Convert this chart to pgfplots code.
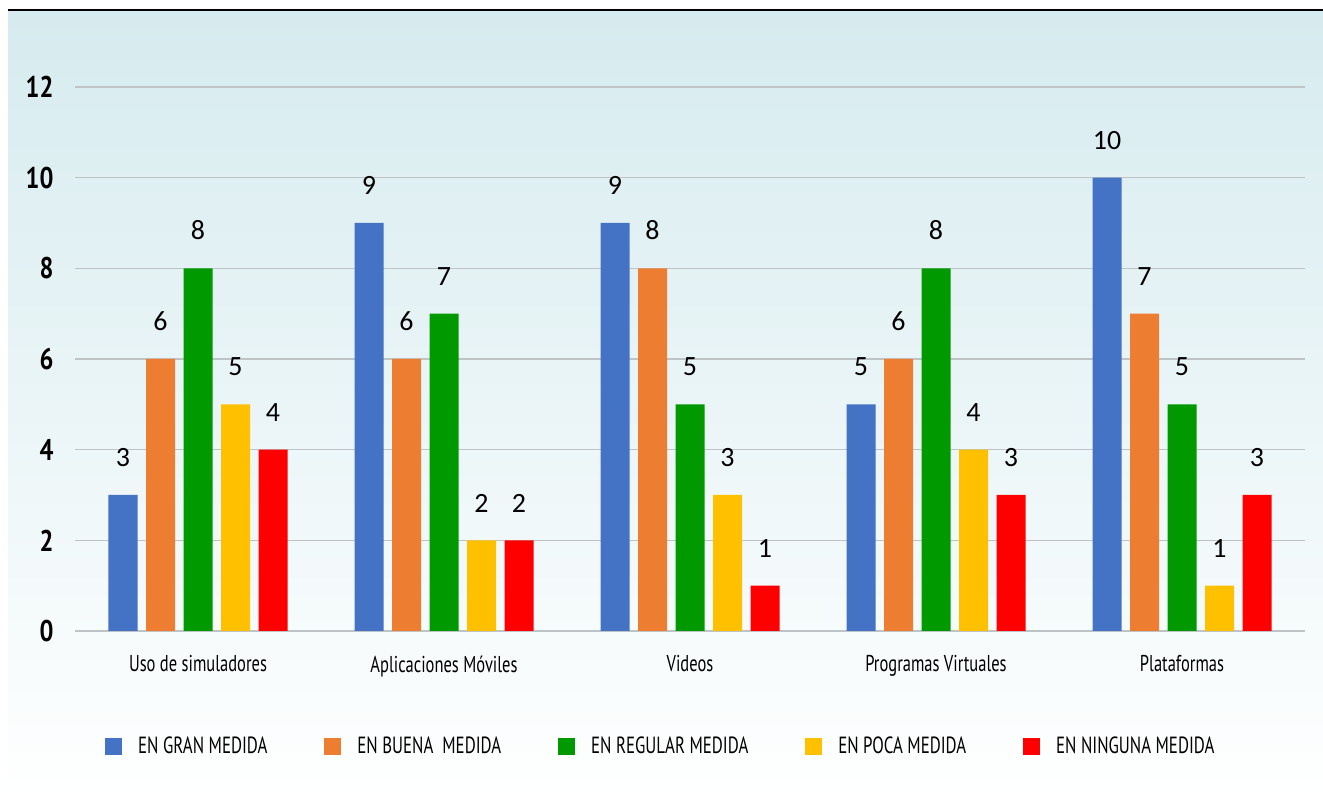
\documentclass[border=0pt]{standalone}
\usepackage{fontspec}
\setmainfont[FakeStretch=0.72]{PT Sans}
\newfontfamily\tickf[FakeStretch=0.82]{PT Sans}
\newfontfamily\lab{Carlito}
\usepackage{pgfplots}
\pgfplotsset{compat=1.18}
\definecolor{cA}{HTML}{4472C4}
\definecolor{cB}{HTML}{ED7D31}
\definecolor{cC}{HTML}{009A00}
\definecolor{cD}{HTML}{FFC000}
\definecolor{cE}{HTML}{FF0000}
\definecolor{bgtop}{RGB}{214,235,239}
\definecolor{gridc}{RGB}{190,196,198}

\pgfplotsset{sq/.style={fill=#1, draw=none,
  legend image code/.code={\fill[#1] (0bp,-8.5bp) rectangle (17bp,8.5bp);}}}

\begin{document}
\begin{tikzpicture}[x=1bp,y=1bp]
\useasboundingbox (0,0) rectangle (1323,798);
\shade[top color=bgtop, bottom color=white] (8,0) rectangle (1323,788);
\draw[line width=2.5bp] (8,788) -- (1323,788);
\begin{axis}[
  at={(75bp,167bp)}, anchor=south west,
  scale only axis, width=1230bp, height=544bp,
  ybar=8.5bp, bar width=29bp,
  xmin=-0.5, xmax=4.5, ymin=0, ymax=12,
  enlargelimits=false, clip=false,
  axis line style={draw=none},
  major tick length=0pt,
  ymajorgrids, grid style={gridc, line width=1.5bp},
  ytick={0,2,...,12},
  xtick={0,1,2,3,4},
  xticklabels={Uso de simuladores, Aplicaciones Móviles, Videos, Programas Virtuales, Plataformas},
  /pgf/number format/assume math mode=true,
  yticklabel style={font=\tickf\bfseries\fontsize{30}{34}\selectfont, xshift=-18bp},
  xticklabel style={font=\fontsize{23}{27}\selectfont, yshift=-21bp},
  nodes near coords,
  nodes near coords style={font=\lab\fontsize{28}{31}\selectfont, inner sep=0pt, anchor=south, yshift=28bp, black},
  legend columns=5,
  legend style={at={(0.0244,-0.2114)}, anchor=west, draw=none, fill=none, inner sep=0pt,
    font=\fontsize{23.5}{27}\selectfont,
    /tikz/every odd column/.append style={column sep=14bp},
    /tikz/every even column/.append style={column sep=55bp}},
]
\addplot[sq=cA] coordinates {(0,3) (1,9) (2,9) (3,5) (4,10)};
\addplot[sq=cB] coordinates {(0,6) (1,6) (2,8) (3,6) (4,7)};
\addplot[sq=cC] coordinates {(0,8) (1,7) (2,5) (3,8) (4,5)};
\addplot[sq=cD] coordinates {(0,5) (1,2) (2,3) (3,4) (4,1)};
\addplot[sq=cE] coordinates {(0,4) (1,2) (2,1) (3,3) (4,3)};
\legend{EN GRAN MEDIDA, EN BUENA\ \ MEDIDA, EN REGULAR MEDIDA, EN POCA MEDIDA, EN NINGUNA MEDIDA}
\end{axis}
\end{tikzpicture}
\end{document}
